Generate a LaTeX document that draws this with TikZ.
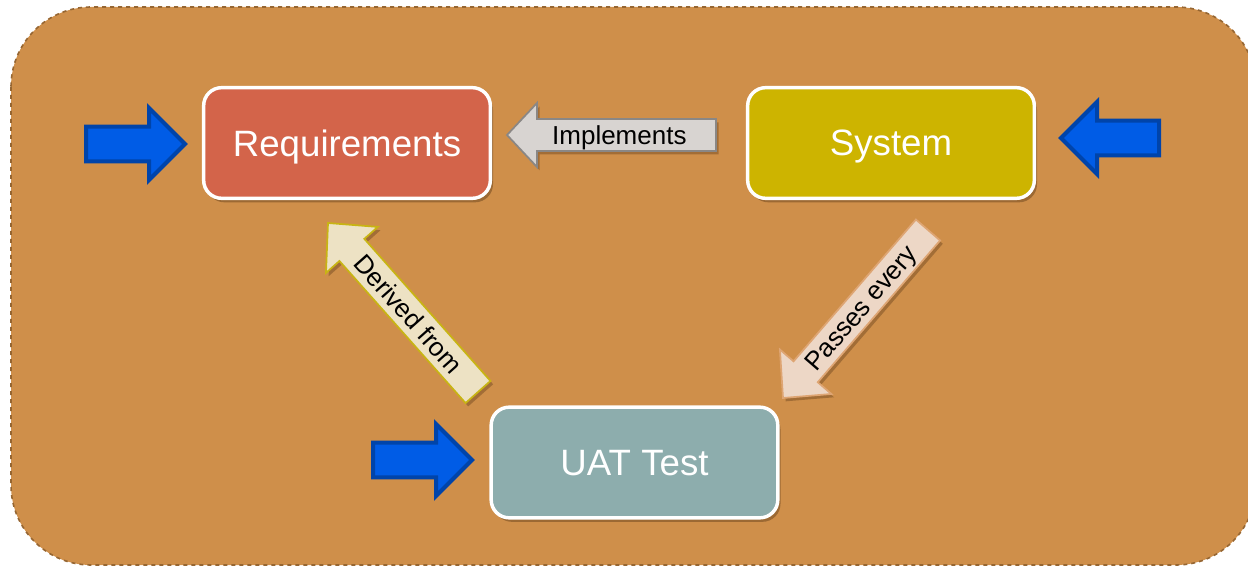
\documentclass[tikz,border=0pt]{standalone}
\usepackage{fontspec}
\setmainfont{Liberation Sans}
\usetikzlibrary{calc,shadows}
\definecolor{bgfill}{RGB}{207,143,74}
\definecolor{bgline}{RGB}{150,102,50}
\definecolor{reqfill}{RGB}{211,100,74}
\definecolor{sysfill}{RGB}{205,180,0}
\definecolor{uatfill}{RGB}{141,173,173}
\definecolor{implfill}{RGB}{216,212,209}
\definecolor{impline}{RGB}{138,135,133}
\definecolor{derfill}{RGB}{237,226,196}
\definecolor{derline}{RGB}{200,180,20}
\definecolor{pasfill}{RGB}{237,215,198}
\definecolor{pasline}{RGB}{222,165,115}
\definecolor{bluefill}{RGB}{0,92,230}
\definecolor{blueline}{RGB}{0,68,170}
\definecolor{shadowc}{RGB}{95,60,25}
\newcommand\blockarr[7]{%
  \coordinate (#7h) at ($(#2)!#6!(#3)$);
  \draw[#1] (#2) -- ($(#7h)!#5!90:(#2)$) -- ($(#7h)!#4!90:(#2)$)
    -- ($(#3)!#4!90:(#2)$) -- ($(#3)!#4!-90:(#2)$)
    -- ($(#7h)!#4!-90:(#2)$) -- ($(#7h)!#5!-90:(#2)$) -- cycle;
}
\tikzset{
  box/.style={draw=white, line width=2.6pt, rounded corners=13.5pt,
    minimum width=215pt, minimum height=83pt, text=white, text depth=0pt,
    font=\fontsize{27.5}{32}\selectfont,
    drop shadow={shadow xshift=2pt, shadow yshift=-3pt, opacity=0.45, fill=shadowc}},
  bluearr/.style={fill=bluefill, draw=blueline, line width=3pt, line join=miter},
  implarr/.style={fill=implfill, draw=impline, line width=1.3pt,
    drop shadow={shadow xshift=2pt, shadow yshift=-2.5pt, opacity=0.4, fill=shadowc}},
  derarr/.style={fill=derfill, draw=derline, line width=1.3pt,
    drop shadow={shadow xshift=2pt, shadow yshift=-2.5pt, opacity=0.4, fill=shadowc}},
  pasarr/.style={fill=pasfill, draw=pasline, line width=1.3pt,
    drop shadow={shadow xshift=2pt, shadow yshift=-2.5pt, opacity=0.4, fill=shadowc}},
  arrlabel/.style={text=black, font=\fontsize{19.5}{22}\selectfont, inner sep=0pt, text depth=0pt}
}
\begin{document}
\begin{tikzpicture}[x=0.75pt, y=-0.75pt]
\useasboundingbox (0,0) rectangle (1248,566);
% background panel
\path[fill=bgfill, draw=bgline, dashed, line width=1.2pt, rounded corners=60pt]
  (11,7) rectangle (1256,565);
% boxes
\node[box, fill=reqfill] (req) at (347,143) {Requirements};
\node[box, fill=sysfill] (sys) at (891,143) {System};
\node[box, fill=uatfill] (uat) at (634.5,462.5) {UAT Test};
% arrow end points
\coordinate (implTip) at (507,135);
\coordinate (implEnd) at (716,135);
\coordinate (derTip) at (328,223);
\coordinate (derEnd) at (478,392);
\coordinate (pasTip) at (783,398);
\coordinate (pasEnd) at (928,230);
\coordinate (bReqTip) at (185,144);
\coordinate (bReqEnd) at (86,144);
\coordinate (bSysTip) at (1061,138);
\coordinate (bSysEnd) at (1159,138);
\coordinate (bUatTip) at (472,460);
\coordinate (bUatEnd) at (373,460);
% block arrows
\blockarr{implarr}{implTip}{implEnd}{12pt}{24pt}{22.5pt}{impl}
\blockarr{derarr}{derTip}{derEnd}{12.5pt}{26pt}{27pt}{der}
\blockarr{pasarr}{pasTip}{pasEnd}{12pt}{25.5pt}{26pt}{pas}
\blockarr{bluearr}{bReqTip}{bReqEnd}{13pt}{27pt}{27pt}{breq}
\blockarr{bluearr}{bSysTip}{bSysEnd}{13pt}{27pt}{27pt}{bsys}
\blockarr{bluearr}{bUatTip}{bUatEnd}{13pt}{27pt}{27pt}{buat}
% labels
\path (implEnd) -- (implh) node[arrlabel, pos=0.54, sloped] (implLbl) {Implements};
\path (derh) -- (derEnd) node[arrlabel, pos=0.45, sloped] (derLbl) {Derived from};
\path (pash) -- (pasEnd) node[arrlabel, pos=0.45, sloped] (pasLbl) {Passes every};
\end{tikzpicture}
\end{document}
